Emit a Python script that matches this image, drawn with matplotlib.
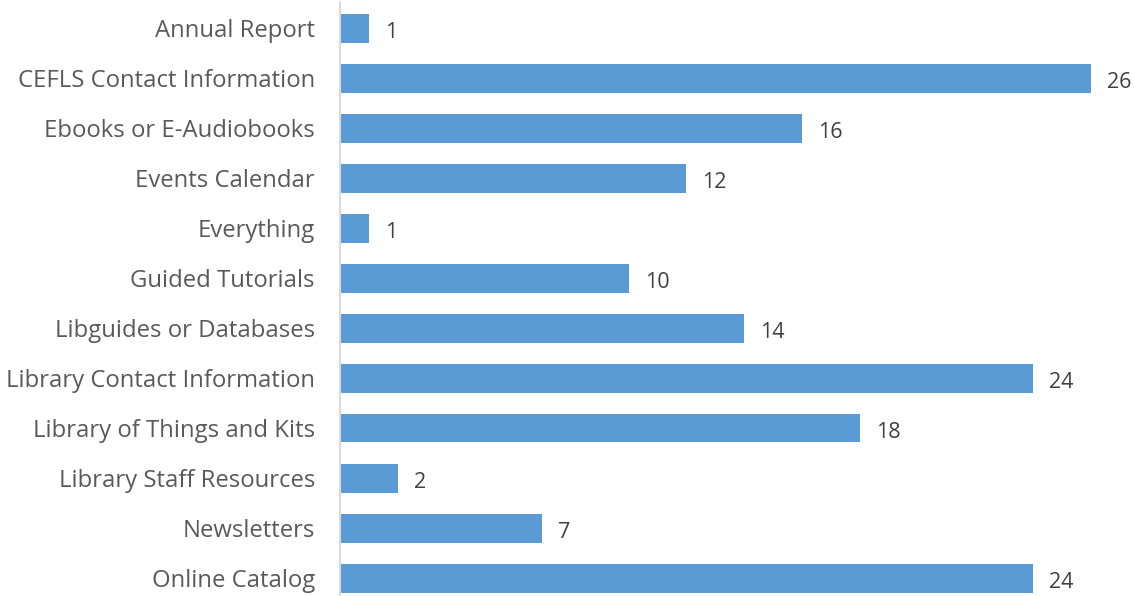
import matplotlib
matplotlib.use("Agg")
from matplotlib import pyplot as plt

CATEGORIES = [
    "Annual Report",
    "CEFLS Contact Information",
    "Ebooks or E-Audiobooks",
    "Events Calendar",
    "Everything",
    "Guided Tutorials",
    "Libguides or Databases",
    "Library Contact Information",
    "Library of Things and Kits",
    "Library Staff Resources",
    "Newsletters",
    "Online Catalog",
]
COUNTS = [1, 26, 16, 12, 1, 10, 14, 24, 18, 2, 7, 24]

BAR_COLOR = "#5B9BD5"
LABEL_COLOR = "#595959"
VALUE_COLOR = "#404040"

plt.rcParams["font.family"] = ["Open Sans", "DejaVu Sans"]

fig = plt.figure(figsize=(11.34, 5.96), dpi=100)
ax = fig.add_axes([340 / 1134, 0, 794 / 1134, 1])

pos = list(range(len(CATEGORIES)))
ax.barh(pos, COUNTS, height=0.58, color=BAR_COLOR, align="center")

# value labels just right of each bar
for y, v in zip(pos, COUNTS):
    ax.annotate(str(v), xy=(v, y), xytext=(16, -4), textcoords="offset pixels",
                ha="left", va="center", fontsize=15.5, color=VALUE_COLOR)

ax.set_yticks(pos)
ax.set_yticklabels(CATEGORIES, fontsize=17.2, color=LABEL_COLOR)
ax.tick_params(axis="y", length=0, pad=18)
ax.set_xticks([])

ax.set_xlim(0, 27.5)
ax.set_ylim(11.36, -0.56)

for side in ["top", "right", "bottom"]:
    ax.spines[side].set_visible(False)
ax.spines["left"].set_color("#D9D9D9")
ax.spines["left"].set_linewidth(1.5)
ax.spines["left"].set_bounds(-0.5, 11.36)

fig.savefig("out.png", dpi=100)
